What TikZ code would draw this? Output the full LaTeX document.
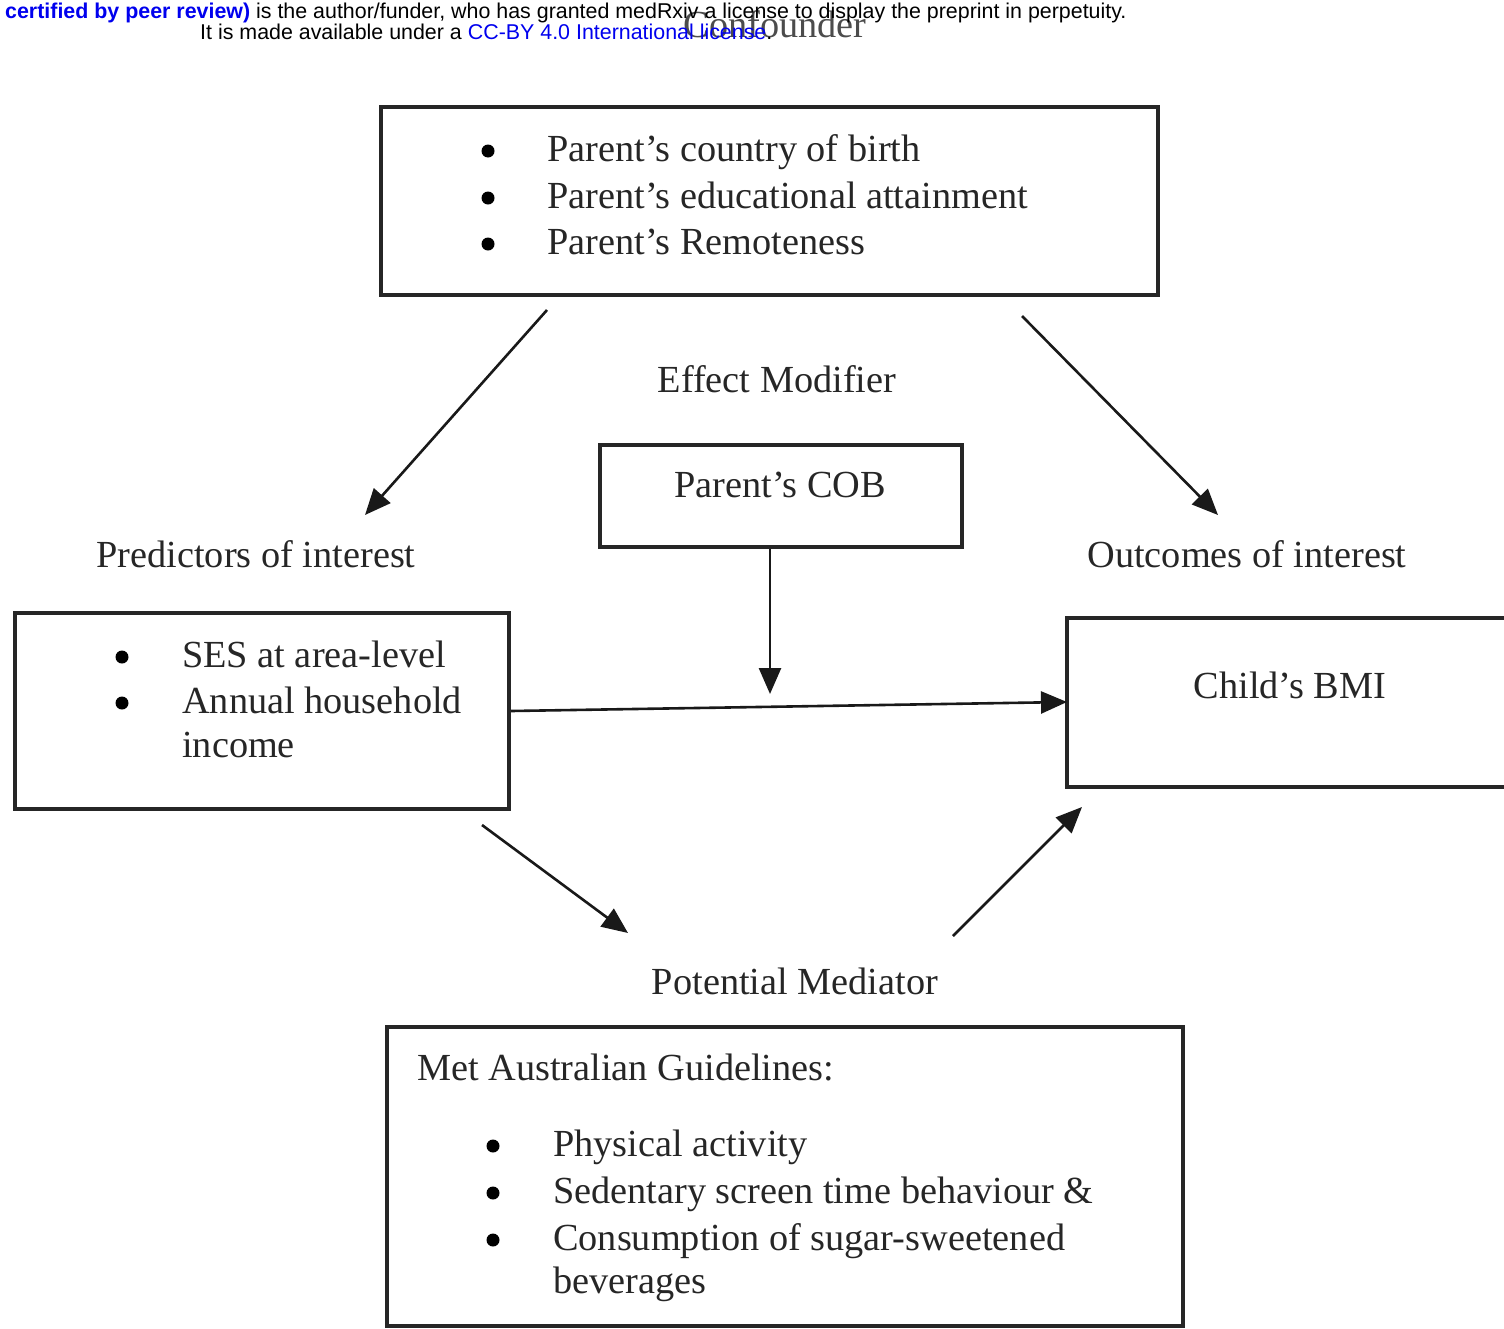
\documentclass[tikz,border=0pt]{standalone}
\usepackage{fontspec}
\setmainfont{Liberation Serif}
\newfontfamily\hdrfont{Liberation Sans}
\usetikzlibrary{arrows.meta}
\definecolor{linkblue}{RGB}{0,0,238}
\tikzset{
  box/.style={draw=black!85, line width=3.5pt, inner sep=0pt, outer sep=0pt, anchor=north west},
  txt/.style={inner sep=0pt, font=\fontsize{38.3}{44}\selectfont, text=black!85, text height=0.7em, text depth=0.22em},
  bul/.style={inner sep=0pt, circle, fill=black, minimum size=13pt},
  arr/.style={line width=2.6pt, draw=black!90, -{Triangle[length=26pt,width=22pt]}},
  hdr/.style={inner sep=0pt, font=\hdrfont\fontsize{21.4}{24}\selectfont, anchor=base west}
}
\begin{document}
\begin{tikzpicture}[x=1pt,y=-1pt]
\useasboundingbox (0,0) rectangle (1504,1328);
% header
\node[txt, text=black!70, anchor=base] (conf) at (775,37) {Confounder};
\node[hdr] (h1) at (5,18) {\textcolor{linkblue}{\bfseries certified by peer review)} is the author/funder, who has granted medRxiv a license to display the preprint in perpetuity.};
\node[hdr] (h2) at (200,39) {It is made available under a \textcolor{linkblue}{CC-BY 4.0 International license}.};
% top box
\node[box, minimum width=777pt, minimum height=188pt] (top) at (381,107) {};
\node[bul] (tb1) at (488,151) {};
\node[bul] (tb2) at (488,198) {};
\node[bul] (tb3) at (488,244) {};
\node[txt, anchor=west] (t1) at (547,159) {Parent’s country of birth};
\node[txt, anchor=west] (t2) at (547,206) {Parent’s educational attainment};
\node[txt, anchor=west] (t3) at (547,252) {Parent’s Remoteness};
% effect modifier
\node[txt] (em) at (777,390) {Effect Modifier};
\node[box, minimum width=362pt, minimum height=102pt] (cob) at (600,445) {};
\node[txt] (cobt) at (780,495) {Parent’s COB};
% labels
\node[txt] (pred) at (256,565) {Predictors of interest};
\node[txt] (outc) at (1247,565) {Outcomes of interest};
% left box
\node[box, minimum width=494pt, minimum height=196pt] (left) at (15,613) {};
\node[bul] (lb1) at (122,657) {};
\node[bul] (lb2) at (122,703) {};
\node[txt, anchor=west] (l1) at (182,665) {SES at area-level};
\node[txt, anchor=west] (l2) at (182,711) {Annual household};
\node[txt, anchor=west] (l3) at (182,755) {income};
% right box (open at right edge)
\coordinate (rtl) at (1067,618);
\coordinate (rbl) at (1067,787);
\draw[draw=black!85, line width=3.5pt] (1510,618) -- (rtl) -- (rbl) -- (1510,787);
\node[txt] (bmi) at (1290,696) {Child’s BMI};
% mediator
\node[txt] (med) at (795,992) {Potential Mediator};
\node[box, minimum width=796pt, minimum height=299pt] (bot) at (387,1027) {};
\node[txt, anchor=west] (b0) at (417,1078) {Met Australian Guidelines:};
\node[bul] (bb1) at (493,1146) {};
\node[bul] (bb2) at (493,1193) {};
\node[bul] (bb3) at (493,1240) {};
\node[txt, anchor=west] (b1) at (553,1154) {Physical activity};
\node[txt, anchor=west] (b2) at (553,1201) {Sedentary screen time behaviour \&};
\node[txt, anchor=west] (b3) at (553,1248) {Consumption of sugar-sweetened};
\node[txt, anchor=west] (b4) at (553,1291) {beverages};
% arrow endpoints
\coordinate (a1s) at (547,310);
\coordinate (a1e) at (365,515);
\coordinate (a2s) at (1022,316);
\coordinate (a2e) at (1218,515);
\coordinate (a3s) at (770,549);
\coordinate (a3e) at (770,694);
\coordinate (a4s) at (511,711);
\coordinate (a4e) at (1067,702);
\coordinate (a5s) at (482,825);
\coordinate (a5e) at (628,933);
\coordinate (a6s) at (953,936);
\coordinate (a6e) at (1082,807);
\draw[arr] (a1s) -- (a1e);
\draw[arr] (a2s) -- (a2e);
\draw[arr] (a3s) -- (a3e);
\draw[arr] (a4s) -- (a4e);
\draw[arr] (a5s) -- (a5e);
\draw[arr] (a6s) -- (a6e);
\end{tikzpicture}
\end{document}
